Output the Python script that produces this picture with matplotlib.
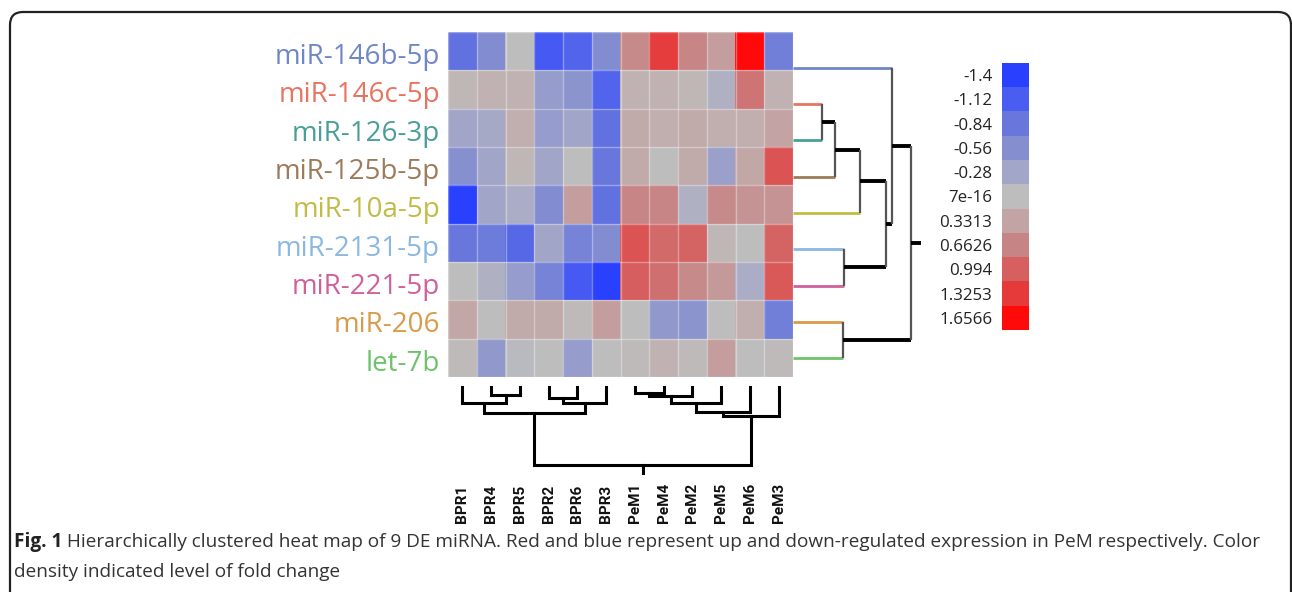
import matplotlib.pyplot as plt
import numpy as np
from matplotlib.colors import LinearSegmentedColormap, Normalize
from matplotlib.patches import FancyBboxPatch
import matplotlib.transforms as mtransforms

# rows / columns as shown (already in cluster order)
mirnas = ['miR-146b-5p', 'miR-146c-5p', 'miR-126-3p', 'miR-125b-5p', 'miR-10a-5p',
          'miR-2131-5p', 'miR-221-5p', 'miR-206', 'let-7b']
label_colors = ['#6f86c8', '#e8735f', '#4a9e9a', '#9c7a5a', '#c2bb45',
                '#8ab8e0', '#d0609a', '#d99a4a', '#6cc46a']
samples = ['BPR1', 'BPR4', 'BPR5', 'BPR2', 'BPR6', 'BPR3',
           'PeM1', 'PeM4', 'PeM2', 'PeM5', 'PeM6', 'PeM3']

fold = np.array([
    [-0.90, -0.60, 0.00, -1.15, -1.05, -0.60, 0.60, 1.30, 0.65, 0.40, 1.66, -0.75],
    [0.10, 0.15, 0.15, -0.40, -0.50, -1.05, 0.15, 0.15, 0.10, -0.15, 0.80, 0.15],
    [-0.30, -0.25, 0.20, -0.40, -0.30, -0.90, 0.25, 0.20, 0.25, 0.20, 0.20, 0.35],
    [-0.55, -0.30, 0.10, -0.30, 0.00, -0.85, 0.25, 0.00, 0.25, -0.35, 0.30, 1.10],
    [-1.40, -0.30, -0.20, -0.60, 0.40, -0.90, 0.65, 0.65, -0.15, 0.60, 0.50, 0.50],
    [-0.85, -0.80, -1.00, -0.30, -0.70, -0.60, 1.10, 0.90, 0.95, 0.10, 0.00, 0.95],
    [0.00, -0.15, -0.40, -0.70, -1.15, -1.40, 1.00, 0.85, 0.60, 0.45, -0.20, 1.05],
    [0.30, 0.00, 0.25, 0.25, 0.05, 0.40, 0.00, -0.45, -0.50, 0.00, 0.20, -0.75],
    [0.05, -0.45, -0.05, 0.00, -0.40, 0.00, 0.05, 0.15, 0.05, 0.40, 0.00, 0.05],
])

# colour key
cb_values = [-1.4, -1.12, -0.84, -0.56, -0.28, 7e-16, 0.3313, 0.6626, 0.994, 1.3253, 1.6566]
cb_labels = ['-1.4', '-1.12', '-0.84', '-0.56', '-0.28', '7e-16',
             '0.3313', '0.6626', '0.994', '1.3253', '1.6566']
cb_colors = ['#2a40ff', '#4b5ef0', '#6a78dc', '#8690d0', '#a3a7c8', '#bebebe',
             '#c3a5a5', '#c88484', '#d66060', '#e63c3c', '#ff0a0a']

# linkage: (child a, child b, merge height), leaves 0..n-1 in display order
row_links = [(1, 2, 29), (9, 3, 42), (10, 4, 67), (5, 6, 51), (11, 12, 93),
             (0, 13, 99), (7, 8, 50), (14, 15, 118)]
col_links = [(1, 2, 8), (0, 12, 16), (3, 4, 11), (14, 5, 16), (13, 15, 26),
             (6, 7, 6), (17, 8, 9), (18, 9, 16), (19, 10, 25), (20, 11, 29),
             (16, 21, 78)]

caption_bold = 'Fig. 1'
caption_1 = ' Hierarchically clustered heat map of 9 DE miRNA. Red and blue represent up and down-regulated expression in PeM respectively. Color'
caption_2 = 'density indicated level of fold change'

W, H = 1292, 592
fig = plt.figure(figsize=(W / 100, H / 100), dpi=100)


def box(x0, y0, x1, y1):
    return [x0 / W, 1 - y1 / H, (x1 - x0) / W, (y1 - y0) / H]


def build_tree(links, n):
    pos = {i: float(i) for i in range(n)}
    hgt = {i: 0.0 for i in range(n)}
    segs = []
    for k, (a, b, h) in enumerate(links):
        segs.append((a, b, pos[a], hgt[a], pos[b], hgt[b], h))
        pos[n + k] = (pos[a] + pos[b]) / 2
        hgt[n + k] = h
    root = n + len(links) - 1
    return segs, pos[root], hgt[root]


pos_list = [v - cb_values[0] for v in cb_values]
cmap = LinearSegmentedColormap.from_list(
    'fc', [(p / pos_list[-1], c) for p, c in zip(pos_list, cb_colors)])
norm = Normalize(vmin=cb_values[0], vmax=cb_values[-1])

# heat map
ax = fig.add_axes(box(448, 32, 793, 377))
ax.imshow(fold, cmap=cmap, norm=norm, aspect='auto', interpolation='nearest')
ax.set_xticks(np.arange(-0.5, len(samples), 1), minor=True)
ax.set_yticks(np.arange(-0.5, len(mirnas), 1), minor=True)
ax.grid(which='minor', color='white', alpha=0.35, lw=1)
ax.tick_params(which='both', length=0)
ax.set_xticks([])
ax.set_yticks([])
for s in ax.spines.values():
    s.set_visible(False)

# row labels
for i, (name, col) in enumerate(zip(mirnas, label_colors)):
    y_px = 32 + 38.33 * (i + 0.5) + 6
    fig.text(440 / W, 1 - y_px / H, name, color=col, ha='right', va='center',
             fontsize=20, family=['Open Sans', 'DejaVu Sans'])

# column labels
trans = mtransforms.blended_transform_factory(ax.transData, fig.transFigure)
for j, name in enumerate(samples):
    fig.text(j, 1 - 523 / H, name, transform=trans, rotation=90, ha='center',
             va='bottom', fontsize=11, color='#111111', weight='bold',
             family=['Roboto', 'DejaVu Sans'])

# row dendrogram
axr = fig.add_axes(box(793, 32, 935, 377))
segs, rpos, rh = build_tree(row_links, len(mirnas))
for a, b, pa, ha_, pb, hb, h in segs:
    for child, p, hc in ((a, pa, ha_), (b, pb, hb)):
        if child < len(mirnas):
            axr.plot([hc, h], [p, p], color=label_colors[child], lw=2, solid_capstyle='butt')
        else:
            axr.plot([hc, h], [p, p], color='black', lw=2.8, solid_capstyle='butt')
    axr.plot([h, h], [pa, pb], color='#555555', lw=1.6, solid_capstyle='butt')
axr.plot([rh, rh + 10], [rpos, rpos], color='black', lw=2.8, solid_capstyle='butt')
axr.set_xlim(0, 142)
axr.set_ylim(8.524, -0.993)
axr.axis('off')

# column dendrogram
axc = fig.add_axes(box(448, 377, 793, 487))
segs, cpos, ch = build_tree(col_links, len(samples))
for a, b, pa, ha_, pb, hb, h in segs:
    axc.plot([pa, pa, pb, pb], [ha_, h, h, hb], color='black', lw=2.2,
             solid_joinstyle='miter')
axc.plot([cpos, cpos], [ch, ch + 8], color='black', lw=2.2)
axc.set_xlim(-0.5, len(samples) - 0.5)
axc.set_ylim(100, -10)
axc.axis('off')

# colour key
axk = fig.add_axes(box(1002, 63, 1029, 330))
axk.imshow(np.array(cb_values).reshape(-1, 1), cmap=cmap, norm=norm, aspect='auto')
axk.set_xticks([])
axk.set_yticks(range(len(cb_labels)))
axk.set_yticklabels(cb_labels, family=['Open Sans', 'DejaVu Sans'], fontsize=12.2,
                    color='#222222')
axk.tick_params(length=0, pad=7)
for s in axk.spines.values():
    s.set_visible(False)

# caption
t0 = fig.text(14 / W, 1 - 547 / H, caption_bold, fontsize=13.7, weight='bold',
              family=['Open Sans', 'DejaVu Sans'], va='baseline', color='#222222')
fig.canvas.draw()
bb = t0.get_window_extent()
fig.text(bb.x1 / W, 1 - 547 / H, caption_1, fontsize=13.7,
         family=['Open Sans', 'DejaVu Sans'], va='baseline', color='#333333')
fig.text(14 / W, 1 - 577 / H, caption_2, fontsize=13.7,
         family=['Open Sans', 'DejaVu Sans'], va='baseline', color='#333333')

# frame
frame = FancyBboxPatch((0.10, -0.3), 12.81, 6.10, boxstyle='round,pad=0,rounding_size=0.13',
                       transform=fig.dpi_scale_trans, fill=False, lw=1.6, ec='#222222')
fig.add_artist(frame)

fig.savefig('out.png', dpi=100)
